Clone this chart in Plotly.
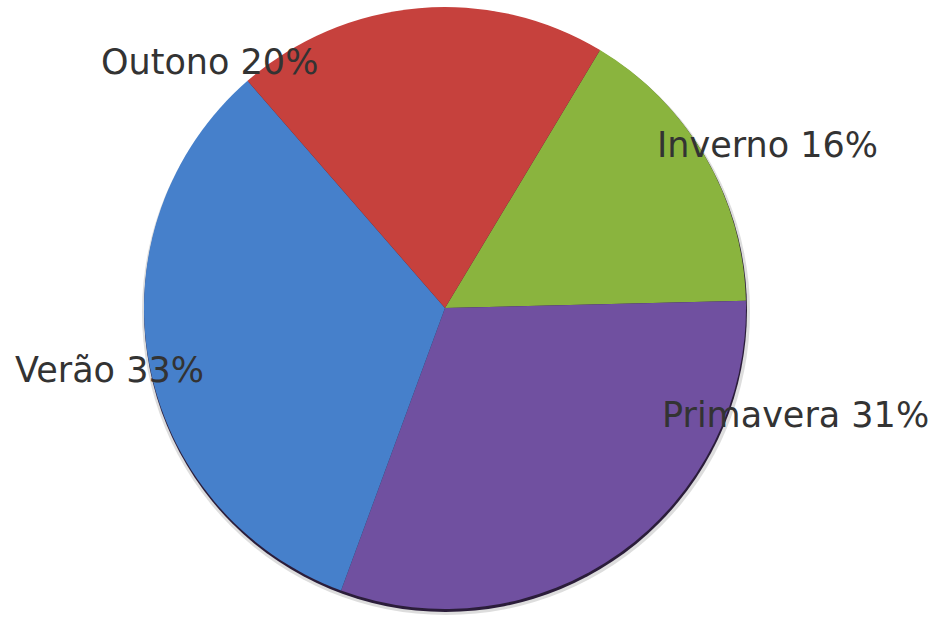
import plotly.graph_objects as go

# Seasonal share, clockwise from the top-right
seasons = ["Inverno", "Primavera", "Verão", "Outono"]
shares = [16, 31, 33, 20]
colors = ["#8ab43e", "#7050a0", "#4680cb", "#c6413d"]

# Label anchor points (paper coords) for each season's caption
label_pos = {
    "Outono": (0.224, 0.900),
    "Inverno": (0.819, 0.766),
    "Verão": (0.117, 0.403),
    "Primavera": (0.849, 0.331),
}

W, H = 937, 620
cx, cy, r = 445, 308, 301  # pie centre / radius in pixels

fig = go.Figure()

# soft shadow and dark rim under the pie
fig.add_shape(type="circle", xref="paper", yref="paper",
              x0=(cx - r - 2) / W, x1=(cx + r + 4) / W,
              y0=1 - (cy + r + 6) / H, y1=1 - (cy - r + 2) / H,
              fillcolor="rgba(120,120,120,0.25)", line_width=0, layer="below")
fig.add_shape(type="circle", xref="paper", yref="paper",
              x0=(cx - r) / W, x1=(cx + r + 1) / W,
              y0=1 - (cy + r + 3) / H, y1=1 - (cy - r + 1) / H,
              fillcolor="#2b1d3a", line_width=0, layer="below")

fig.add_trace(go.Pie(
    labels=seasons, values=shares, sort=False, direction="clockwise",
    rotation=31, marker=dict(colors=colors, line=dict(width=0)),
    textinfo="none", hoverinfo="label+percent", showlegend=False,
    domain=dict(x=[(cx - r) / W, (cx + r) / W], y=[1 - (cy + r) / H, 1 - (cy - r) / H]),
))

for s, v in zip(seasons, shares):
    x, y = label_pos[s]
    fig.add_annotation(x=x, y=y, xref="paper", yref="paper", text=f"{s} {v}%",
                       showarrow=False, xanchor="center", yanchor="middle",
                       font=dict(family="DejaVu Sans", size=35, color="#333333"))

fig.update_layout(width=W, height=H, margin=dict(l=0, r=0, t=0, b=0),
                  paper_bgcolor="white", plot_bgcolor="white")

fig.write_html("out.html")
